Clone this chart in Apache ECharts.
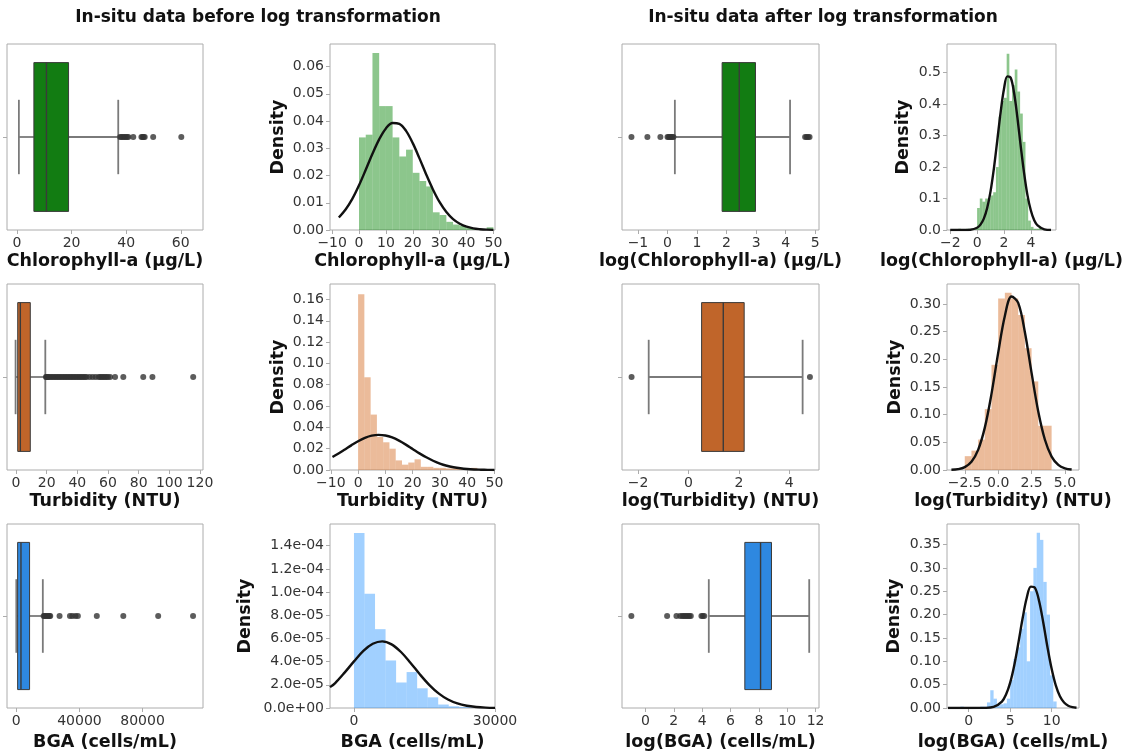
<!DOCTYPE html>
<html><head><meta charset="utf-8">
<script src="https://cdn.jsdelivr.net/npm/echarts@6/dist/echarts.min.js"></script>
<style>html,body{margin:0;padding:0;background:#fff;}#c{width:1125px;height:754px;}</style>
</head><body><div id="c"></div>
<script>
// ---------------- DATA ----------------
// Row 1: Chlorophyll-a
const chlBoxStats = [0.7, 6.2, 10.8, 18.9, 37.1];          // whiskerLow, Q1, median, Q3, whiskerHigh
const chlOutliers = [37.8, 38.3, 38.8, 39.3, 39.8, 40.3, 40.8, 42.6, 45.6, 46.0, 46.4, 46.8, 49.9, 60.2];
const chlHistEdges = [0, 2.5, 5, 7.5, 10, 12.5, 15, 17.5, 20, 22.5, 25, 27.5, 30, 32.5, 35, 37.5, 40, 42.5, 45, 47.5, 50];
const chlHistDensity = [0.034, 0.035, 0.065, 0.0455, 0.0455, 0.034, 0.027, 0.0295, 0.021, 0.018, 0.016, 0.0065, 0.0055, 0.003, 0.002, 0.0015, 0.0008, 0.0005, 0.0003, 0.001];
const chlCurve = [[-7.5,0.0046],[-5,0.0075],[-2.5,0.0114],[0,0.0164],[2.5,0.0221],[5,0.0280],[7.5,0.0333],[10,0.0373],[12.5,0.0393],[15,0.0390],[17.5,0.0364],[20,0.0319],[22.5,0.0263],[25,0.0204],[27.5,0.0149],[30,0.0102],[32.5,0.0066],[35,0.0040],[37.5,0.0023],[40,0.0012],[42.5,0.0006],[45,0.0003],[47.5,0.00013],[50,0.00006]];

const logChlBoxStats = [0.25, 1.85, 2.43, 2.98, 4.15];
const logChlOutliers = [-1.22, -0.68, -0.24, 0.0, 0.04, 0.08, 0.12, 0.16, 0.2, 4.66, 4.71, 4.76, 4.81];
const logChlHistEdges = [-1.4,-1.2,-1.0,-0.8,-0.6,-0.4,-0.2,0.0,0.2,0.4,0.6,0.8,1.0,1.2,1.4,1.6,1.8,2.0,2.2,2.4,2.6,2.8,3.0,3.2,3.4,3.6,3.8,4.0,4.2,4.4,4.6,4.8];
const logChlHistDensity = [0.004,0,0,0.004,0,0.004,0.004,0.07,0.10,0.09,0.10,0.10,0.11,0.12,0.20,0.36,0.41,0.42,0.56,0.41,0.46,0.51,0.44,0.37,0.28,0.10,0.03,0.01,0.004,0.004,0.008];
const logChlCurve = [[-2,0],[-1,0.0001],[-0.5,0.001],[0,0.0073],[0.25,0.0171],[0.5,0.0362],[0.75,0.070],[1.0,0.1227],[1.25,0.196],[1.5,0.284],[1.75,0.374],[2.0,0.448],[2.25,0.488],[2.5,0.484],[2.75,0.436],[3.0,0.357],[3.25,0.265],[3.5,0.180],[3.75,0.110],[4.0,0.0618],[4.25,0.031],[4.5,0.0146],[5.0,0.0023],[5.5,0.0002]];

// Row 2: Turbidity
const turbBoxStats = [-0.3, 1.1, 2.8, 9.3, 19.1];
const turbOutliers = [19.5,20,20.5,21,22,23,24,25,26,27,28,29,30,31,32,33,34,35,36,37,38,39,40,41,42,43,44,45,46,48,50,52,54,55,56,57,58,59,60,61.4,64.6,70,83,89,115.6];
const turbHistEdges = [0,2.3,4.6,6.9,9.2,11.5,13.8,16.1,18.4,20.7,23,25.3,27.6,29.9,32.2,34.5,36.8,39.1,41.4,43.7,46];
const turbHistDensity = [0.165,0.087,0.052,0.031,0.026,0.020,0.009,0.005,0.007,0.010,0.003,0.003,0.002,0.002,0.0015,0.0015,0.001,0.0015,0.002,0.001];
const turbCurve = [[-9.4,0.0122],[-7.5,0.0150],[-5,0.0190],[-2.5,0.0231],[0,0.0270],[2.5,0.0301],[5,0.0322],[7.5,0.0330],[10,0.0324],[12.5,0.0305],[15,0.0275],[17.5,0.0238],[20,0.0197],[22.5,0.0156],[25,0.0119],[27.5,0.0087],[30,0.0060],[32.5,0.0040],[35,0.0026],[37.5,0.0016],[40,0.0009],[42.5,0.0005],[45,0.0003],[47.5,0.00015],[50,0.00007]];

const logTurbBoxStats = [-1.58, 0.52, 1.38, 2.21, 4.53];
const logTurbOutliers = [-2.26, 4.82];
const logTurbHistEdges = [-2.5,-2.0,-1.5,-1.0,-0.5,0.0,0.5,1.0,1.5,2.0,2.5,3.0,3.5,4.0];
const logTurbHistDensity = [0.025,0.035,0.055,0.11,0.19,0.31,0.32,0.31,0.28,0.22,0.16,0.08,0.08];
const logTurbCurve = [[-3.5,0.0004],[-3,0.0015],[-2.5,0.0052],[-2,0.0149],[-1.5,0.0364],[-1,0.0765],[-0.5,0.1375],[0,0.2115],[0.5,0.2783],[1.0,0.3133],[1.5,0.3018],[2.0,0.2488],[2.5,0.1754],[3.0,0.1058],[3.5,0.0546],[4.0,0.0241],[4.5,0.0091],[5.0,0.0029],[5.5,0.0008]];

// Row 3: BGA
const bgaBoxStats = [0, 840, 2950, 8400, 16800];
const bgaOutliers = [17300,18000,18700,19500,20300,21000,21500,27400,34000,35500,37500,39000,51000,67800,89900,112000];
const bgaHistEdges = [0,2240,4480,6720,8960,11200,13440,15680,17920,20160,22400,24640,26880,29120,31360];
const bgaHistDensity = [1.51e-4,0.986e-4,0.68e-4,0.41e-4,0.22e-4,0.31e-4,0.17e-4,0.092e-4,0.03e-4,0.015e-4,0.008e-4,0.005e-4,0.003e-4,0.002e-4];
const bgaCurve = [[-5100,1.8e-5],[-4000,2.15e-5],[-2000,3.05e-5],[0,4.02e-5],[2000,4.93e-5],[4000,5.54e-5],[6000,5.75e-5],[8000,5.49e-5],[10000,4.83e-5],[12000,3.91e-5],[14000,2.91e-5],[16000,2.0e-5],[18000,1.26e-5],[20000,0.73e-5],[22000,0.39e-5],[24000,0.19e-5],[26000,0.087e-5],[28000,0.036e-5],[30000,0.014e-5]];

const logBgaBoxStats = [4.47, 7.01, 8.12, 8.89, 11.55];
const logBgaOutliers = [-0.99, 1.53, 2.19, 2.45, 2.6, 2.7, 2.8, 2.9, 3.0, 3.1, 3.2, 3.95, 4.05, 4.15];
const logBgaHistEdges = [-1.0,-0.6,-0.2,0.2,0.6,1.0,1.4,1.8,2.2,2.6,3.0,3.4,3.8,4.2,4.6,5.0,5.4,5.8,6.2,6.6,7.0,7.4,7.8,8.2,8.6,9.0,9.4,9.8,10.2,10.6];
const logBgaHistDensity = [0.003,0,0,0,0,0,0.003,0.003,0.012,0.038,0.02,0.006,0.008,0.01,0.02,0.06,0.105,0.13,0.17,0.205,0.10,0.25,0.30,0.375,0.36,0.27,0.20,0.07,0.014];
const logBgaCurve = [[-2.5,0],[0,0],[2,0.0002],[3,0.0022],[4,0.0137],[4.5,0.0288],[5,0.0544],[5.5,0.0923],[6,0.1405],[6.5,0.192],[7,0.236],[7.5,0.2598],[8,0.257],[8.5,0.228],[9,0.182],[9.5,0.130],[10,0.0838],[10.5,0.0483],[11,0.025],[11.5,0.0117],[12,0.0049],[12.5,0.0018],[13,0.0006]];

// Tick values and labels
const chlBoxTicks = [0,20,40,60];           const chlBoxTickLabels = ['0','20','40','60'];
const chlHistXTicks = [-10,0,10,20,30,40,50]; const chlHistXTickLabels = ['\u221210','0','10','20','30','40','50'];
const chlHistYTicks = [0,0.01,0.02,0.03,0.04,0.05,0.06]; const chlHistYTickLabels = ['0.00','0.01','0.02','0.03','0.04','0.05','0.06'];
const logChlBoxTicks = [-1,0,1,2,3,4,5];    const logChlBoxTickLabels = ['\u22121','0','1','2','3','4','5'];
const logChlHistXTicks = [-2,0,2,4];        const logChlHistXTickLabels = ['\u22122','0','2','4'];
const logChlHistYTicks = [0,0.1,0.2,0.3,0.4,0.5]; const logChlHistYTickLabels = ['0.0','0.1','0.2','0.3','0.4','0.5'];
const turbBoxTicks = [0,20,40,60,80,100,120]; const turbBoxTickLabels = ['0','20','40','60','80','100','120'];
const turbHistXTicks = [-10,0,10,20,30,40,50]; const turbHistXTickLabels = ['\u221210','0','10','20','30','40','50'];
const turbHistYTicks = [0,0.02,0.04,0.06,0.08,0.10,0.12,0.14,0.16]; const turbHistYTickLabels = ['0.00','0.02','0.04','0.06','0.08','0.10','0.12','0.14','0.16'];
const logTurbBoxTicks = [-2,0,2,4];         const logTurbBoxTickLabels = ['\u22122','0','2','4'];
const logTurbHistXTicks = [-2.5,0,2.5,5];   const logTurbHistXTickLabels = ['\u22122.5','0.0','2.5','5.0'];
const logTurbHistYTicks = [0,0.05,0.10,0.15,0.20,0.25,0.30]; const logTurbHistYTickLabels = ['0.00','0.05','0.10','0.15','0.20','0.25','0.30'];
const bgaBoxTicks = [0,40000,80000];        const bgaBoxTickLabels = ['0','40000','80000'];
const bgaHistXTicks = [0,30000];            const bgaHistXTickLabels = ['0','30000'];
const bgaHistYTicks = [0,2e-5,4e-5,6e-5,8e-5,1e-4,1.2e-4,1.4e-4]; const bgaHistYTickLabels = ['0.0e+00','2.0e-05','4.0e-05','6.0e-05','8.0e-05','1.0e-04','1.2e-04','1.4e-04'];
const logBgaBoxTicks = [0,2,4,6,8,10,12];   const logBgaBoxTickLabels = ['0','2','4','6','8','10','12'];
const logBgaHistXTicks = [0,5,10];          const logBgaHistXTickLabels = ['0','5','10'];
const logBgaHistYTicks = [0,0.05,0.10,0.15,0.20,0.25,0.30,0.35]; const logBgaHistYTickLabels = ['0.00','0.05','0.10','0.15','0.20','0.25','0.30','0.35'];

// ---------------- LAYOUT / STYLE ----------------
const FONT = 'DejaVu Sans';
const rows = [[44,186,22],[284,186,22],[524,184,25]];
const cols = [[7,196],[330,165],[622,197],[947,132]];
const frameColor = '#acacac';
const tickColor = '#333';
const boxEdge = '#3a3a3a';
const whiskerColor = '#7a7a7a';

const panels = [
  {r:0,c:0,type:'box', xr:[-3.65,68.15], xt:chlBoxTicks, xl:chlBoxTickLabels, name:'Chlorophyll-a (\u00b5g/L)', stats:chlBoxStats, out:chlOutliers, color:'#127c12'},
  {r:0,c:1,type:'hist', xr:[-10.8,50.6], yr:[0,0.0683], xt:chlHistXTicks, xl:chlHistXTickLabels, yt:chlHistYTicks, yl:chlHistYTickLabels, name:'Chlorophyll-a (\u00b5g/L)', edges:chlHistEdges, dens:chlHistDensity, curve:chlCurve, color:'rgba(0,128,0,0.45)', yGap:43},
  {r:0,c:2,type:'box', xr:[-1.54,5.13], xt:logChlBoxTicks, xl:logChlBoxTickLabels, name:'log(Chlorophyll-a) (\u00b5g/L)', stats:logChlBoxStats, out:logChlOutliers, color:'#127c12'},
  {r:0,c:3,type:'hist', xr:[-2.24,5.87], yr:[0,0.591], xt:logChlHistXTicks, xl:logChlHistXTickLabels, yt:logChlHistYTicks, yl:logChlHistYTickLabels, name:'log(Chlorophyll-a) (\u00b5g/L)', edges:logChlHistEdges, dens:logChlHistDensity, curve:logChlCurve, color:'rgba(0,128,0,0.45)', yGap:35},
  {r:1,c:0,type:'box', xr:[-5.9,122], xt:turbBoxTicks, xl:turbBoxTickLabels, name:'Turbidity (NTU)', stats:turbBoxStats, out:turbOutliers, color:'#c0652a'},
  {r:1,c:1,type:'hist', xr:[-10.3,50.2], yr:[0,0.1745], xt:turbHistXTicks, xl:turbHistXTickLabels, yt:turbHistYTicks, yl:turbHistYTickLabels, name:'Turbidity (NTU)', edges:turbHistEdges, dens:turbHistDensity, curve:turbCurve, color:'rgba(210,105,30,0.45)', yGap:43},
  {r:1,c:2,type:'box', xr:[-2.64,5.18], xt:logTurbBoxTicks, xl:logTurbBoxTickLabels, name:'log(Turbidity) (NTU)', stats:logTurbBoxStats, out:logTurbOutliers, color:'#c0652a'},
  {r:1,c:3,type:'hist', xr:[-3.83,6.05], yr:[0,0.336], xt:logTurbHistXTicks, xl:logTurbHistXTickLabels, yt:logTurbHistYTicks, yl:logTurbHistYTickLabels, name:'log(Turbidity) (NTU)', edges:logTurbHistEdges, dens:logTurbHistDensity, curve:logTurbCurve, color:'rgba(210,105,30,0.45)', yGap:43},
  {r:2,c:0,type:'box', xr:[-5900,118300], xt:bgaBoxTicks, xl:bgaBoxTickLabels, name:'BGA (cells/mL)', stats:bgaBoxStats, out:bgaOutliers, color:'#2e88e0'},
  {r:2,c:1,type:'hist', xr:[-5100,30000], yr:[0,1.587e-4], xt:bgaHistXTicks, xl:bgaHistXTickLabels, yt:bgaHistYTicks, yl:bgaHistYTickLabels, name:'BGA (cells/mL)', edges:bgaHistEdges, dens:bgaHistDensity, curve:bgaCurve, color:'rgba(30,144,255,0.42)', yGap:76},
  {r:2,c:2,type:'box', xr:[-1.65,12.24], xt:logBgaBoxTicks, xl:logBgaBoxTickLabels, name:'log(BGA) (cells/mL)', stats:logBgaBoxStats, out:logBgaOutliers, color:'#2e88e0'},
  {r:2,c:3,type:'hist', xr:[-2.62,13.3], yr:[0,0.394], xt:logBgaHistXTicks, xl:logBgaHistXTickLabels, yt:logBgaHistYTicks, yl:logBgaHistYTickLabels, name:'log(BGA) (cells/mL)', edges:logBgaHistEdges, dens:logBgaHistDensity, curve:logBgaCurve, color:'rgba(30,144,255,0.42)', yGap:44}
];

function lab(ticks, labels){
  return function(v){
    let best = 0, bd = Infinity;
    ticks.forEach((t,i)=>{ const d = Math.abs(t - v); if (d < bd){bd = d; best = i;} });
    return labels[best];
  };
}

const grid = [], xAxis = [], yAxis = [], series = [];
panels.forEach((p, i) => {
  const [top, h, gap] = rows[p.r]; const [left, w] = cols[p.c];
  grid.push({left, top, width: w, height: h, show: true, borderColor: frameColor, borderWidth: 1, containLabel: false});
  xAxis.push({
    type: 'value', gridIndex: i, min: p.xr[0], max: p.xr[1], position: 'bottom',
    name: p.name, nameLocation: 'middle', nameGap: gap,
    nameTextStyle: {fontFamily: FONT, fontWeight: 'bold', fontSize: 17.5, color: '#111', verticalAlign: 'top'},
    axisLine: {show: false, onZero: false}, splitLine: {show: false},
    axisTick: {show: true, customValues: p.xt, length: 4, lineStyle: {color: frameColor}},
    axisLabel: {customValues: p.xt, formatter: lab(p.xt, p.xl), fontFamily: FONT, fontSize: 14, color: tickColor, margin: 6}
  });
  if (p.type === 'box') {
    yAxis.push({
      type: 'value', gridIndex: i, min: -0.5, max: 0.5, position: 'left',
      axisLine: {show: false, onZero: false}, splitLine: {show: false},
      axisTick: {show: true, customValues: [0], length: 4, lineStyle: {color: frameColor}},
      axisLabel: {show: false}
    });
    series.push({
      type: 'custom', xAxisIndex: i, yAxisIndex: i, data: [p.stats], z: 3,
      renderItem: (function(color){ return function(params, api){
        const wl = api.value(0), q1 = api.value(1), md = api.value(2), q3 = api.value(3), wh = api.value(4);
        const c = (x, y) => api.coord([x, y]);
        const yc = c(0, 0)[1], yt = c(0, 0.4)[1], yb = c(0, -0.4)[1], ct = c(0, 0.2)[1], cb = c(0, -0.2)[1];
        const xwl = c(wl, 0)[0], xq1 = c(q1, 0)[0], xmd = c(md, 0)[0], xq3 = c(q3, 0)[0], xwh = c(wh, 0)[0];
        const ws = {stroke: whiskerColor, lineWidth: 1.8};
        return {type: 'group', children: [
          {type: 'line', shape: {x1: xwl, y1: yc, x2: xq1, y2: yc}, style: ws},
          {type: 'line', shape: {x1: xq3, y1: yc, x2: xwh, y2: yc}, style: ws},
          {type: 'line', shape: {x1: xwl, y1: ct, x2: xwl, y2: cb}, style: ws},
          {type: 'line', shape: {x1: xwh, y1: ct, x2: xwh, y2: cb}, style: ws},
          {type: 'rect', shape: {x: Math.min(xq1, xq3), y: Math.min(yt, yb), width: Math.abs(xq3 - xq1), height: Math.abs(yb - yt)}, style: {fill: color, stroke: boxEdge, lineWidth: 1}},
          {type: 'line', shape: {x1: xmd, y1: yt, x2: xmd, y2: yb}, style: {stroke: boxEdge, lineWidth: 1.4}}
        ]};
      }; })(p.color)
    });
    series.push({
      type: 'scatter', xAxisIndex: i, yAxisIndex: i, z: 4,
      data: p.out.map(v => [v, 0]), symbol: 'circle', symbolSize: 6,
      itemStyle: {color: '#333'}, silent: true
    });
  } else {
    yAxis.push({
      type: 'value', gridIndex: i, min: p.yr[0], max: p.yr[1], position: 'left',
      name: 'Density', nameLocation: 'middle', nameGap: p.yGap, nameRotate: 90,
      nameTextStyle: {fontFamily: FONT, fontWeight: 'bold', fontSize: 17.5, color: '#111'},
      axisLine: {show: false, onZero: false}, splitLine: {show: false},
      axisTick: {show: true, customValues: p.yt, length: 4, lineStyle: {color: frameColor}},
      axisLabel: {customValues: p.yt, formatter: lab(p.yt, p.yl), fontFamily: FONT, fontSize: 14, color: tickColor, margin: 6}
    });
    const bins = p.dens.map((d, k) => [p.edges[k], p.edges[k + 1], d]);
    series.push({
      type: 'custom', xAxisIndex: i, yAxisIndex: i, data: bins, clip: true, z: 2,
      renderItem: (function(color){ return function(params, api){
        const a = api.coord([api.value(0), api.value(2)]);
        const b = api.coord([api.value(1), 0]);
        return {type: 'rect', shape: {x: a[0], y: a[1], width: b[0] - a[0], height: b[1] - a[1]}, style: {fill: color}};
      }; })(p.color)
    });
    series.push({
      type: 'line', xAxisIndex: i, yAxisIndex: i, data: p.curve, smooth: 0.35, showSymbol: false, z: 3,
      lineStyle: {color: '#111', width: 2.4}, silent: true, clip: true
    });
  }
});

const chart = echarts.init(document.getElementById('c'), null, {renderer: 'canvas'});
chart.setOption({
  animation: false,
  backgroundColor: '#fff',
  title: [
    {text: 'In-situ data before log transformation', left: 253, top: 4, textAlign: 'center', textStyle: {fontFamily: FONT, fontWeight: 'bold', fontSize: 17, color: '#111'}},
    {text: 'In-situ data after log transformation', left: 818, top: 4, textAlign: 'center', textStyle: {fontFamily: FONT, fontWeight: 'bold', fontSize: 17, color: '#111'}}
  ],
  grid, xAxis, yAxis, series
});
</script></body></html>
